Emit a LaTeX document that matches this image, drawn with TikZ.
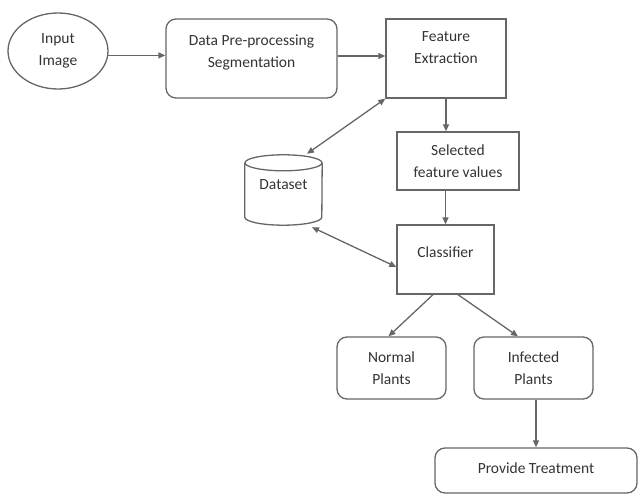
\documentclass[tikz,border=0pt]{standalone}
\usepackage{fontspec}
\setmainfont{Carlito}
\usetikzlibrary{arrows.meta,shapes.geometric,calc}
\begin{document}
\begin{tikzpicture}[x=1pt,y=1pt,
  every node/.style={font=\fontsize{15.5}{22}\selectfont, text=black!80, align=center},
  ln/.style={draw=black!60, line width=1.3pt},
  box/.style={ln, rectangle, inner sep=0pt},
  rbox/.style={box, rounded corners=10pt},
  txt/.style={inner sep=0pt},
  arr/.style={ln, -{Triangle[length=7pt,width=6pt]}},
  darr/.style={ln, {Triangle[length=7pt,width=6pt]}-{Triangle[length=7pt,width=6pt]}}]
\useasboundingbox (0,0) rectangle (638,-494);
% nodes
\node[ln, ellipse, minimum width=100, minimum height=76, inner sep=0pt] (inp) at (58,-51) {Input\\Image};
\node[rbox, minimum width=171, minimum height=79] (pre) at (251.5,-58.5) {};
\node[txt] (preT) at (251.5,-52.5) {Data Pre-processing\\Segmentation};
\node[box, minimum width=120, minimum height=79] (fe) at (446,-58.5) {};
\node[txt] (feT) at (446,-47.5) {Feature\\Extraction};
\node[box, minimum width=122, minimum height=58] (sel) at (458,-161) {Selected\\feature values};
\node[box, minimum width=97, minimum height=69] (cls) at (445.5,-259.5) {};
\node[txt] (clsT) at (445.5,-252) {Classifier};
\node[minimum width=77, minimum height=70, inner sep=0pt] (ds) at (283.5,-190) {};
\node[txt] (dsT) at (283.5,-185) {Dataset};
\node[rbox, minimum width=109, minimum height=62] (nor) at (391.5,-368) {Normal\\Plants};
\node[rbox, minimum width=119, minimum height=62] (inf) at (533.5,-368) {Infected\\Plants};
\node[rbox, minimum width=202, minimum height=45] (pt) at (536,-470.5) {};
\node[txt] (ptT) at (536,-468) {Provide Treatment};
% cylinder
\draw[ln] ($(ds.north west)+(0,-8)$) -- ($(ds.south west)+(0,8)$)
  arc[start angle=180, end angle=360, x radius=38.5, y radius=8]
  -- ($(ds.north east)+(0,-8)$);
\draw[ln] ($(ds.north)+(0,-8)$) ellipse[x radius=38.5, y radius=8];
% connectors
\draw[arr] (inp.355) -- (inp.355 -| pre.west);
\draw[arr] ([yshift=2.5]pre.east) -- ([yshift=2.5]fe.west);
\draw[arr] (fe.south) -- (fe.south |- sel.north);
\draw[arr] (cls.north |- sel.south) -- (cls.north);
\coordinate (dsA) at ([xshift=23.5,yshift=1]ds.north);
\coordinate (dsB) at ([xshift=28.5,yshift=-2]ds.south);
\draw[darr] (dsA) -- (fe.south west);
\draw[darr] (dsB) -- ([yshift=-7.5]cls.west);
\draw[arr] ([xshift=-12.5]cls.south) -- ([xshift=-3]nor.north);
\draw[arr] ([xshift=12.5]cls.south) -- ([xshift=-15.5]inf.north);
\draw[arr] (pt.north |- inf.south) -- (pt.north);
\end{tikzpicture}
\end{document}
